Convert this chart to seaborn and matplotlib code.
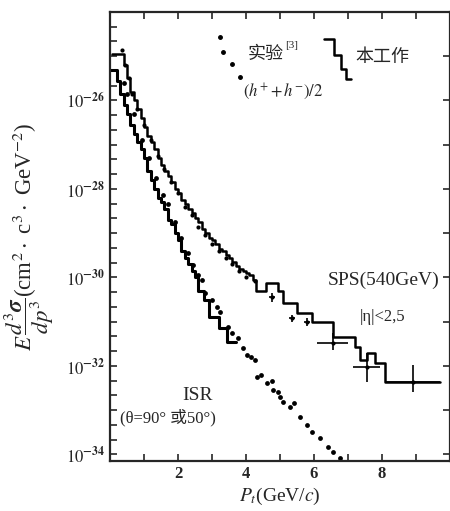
import numpy as np
import pandas as pd
import matplotlib
matplotlib.use("Agg")
import matplotlib.pyplot as plt
import seaborn as sns
from matplotlib.ticker import FixedLocator, FuncFormatter, NullFormatter

sns.set_style("ticks")
plt.rcParams['font.family'] = ['Liberation Serif', 'Noto Sans CJK SC', 'DejaVu Sans']
plt.rcParams['mathtext.fontset'] = 'stix'

# SPS (540 GeV) histogram, this work: bin edges and log10 of the values
sps_edges = [0.05, 0.3, 0.4, 0.5, 0.6, 0.7, 0.8, 0.9, 1.0, 1.1, 1.2, 1.3, 1.4, 1.5,
             1.6, 1.7, 1.8, 1.9, 2.0, 2.1, 2.2, 2.3, 2.4, 2.5, 2.6, 2.7, 2.8, 2.9,
             3.0, 3.1, 3.2, 3.3, 3.4, 3.5, 3.6, 3.7, 3.8, 3.9, 4.0, 4.1, 4.2, 4.3,
             4.6, 4.95, 5.1, 5.5, 5.95, 6.55, 7.2, 7.35, 7.55, 7.8, 8.1, 9.7]
sps_hist = [-24.95,
            -24.95, -25.2, -25.5, -25.8, -26.0, -26.2, -26.4, -26.6, -26.8, -26.95,
            -27.1, -27.3, -27.45, -27.6, -27.7, -27.85, -28.0, -28.1, -28.25, -28.35,
            -28.45, -28.55, -28.65, -28.75, -28.9, -29.0, -29.1, -29.15, -29.25, -29.35,
            -29.4, -29.5, -29.55, -29.65, -29.75, -29.8, -29.85, -29.9, -29.95, -30.05,
            -30.3, -30.12, -30.3, -30.58, -30.81, -31.01, -31.35, -31.58, -31.87,
            -31.71, -31.94, -32.37]

# ISR histogram, this work
isr_edges = [0.0, 0.2, 0.3, 0.4, 0.5, 0.6, 0.7, 0.8, 0.9, 1.0, 1.1, 1.2, 1.3, 1.4,
             1.5, 1.6, 1.7, 1.8, 1.9, 2.0, 2.1, 2.2, 2.3, 2.4, 2.5, 2.6,
             2.75, 2.9, 3.2, 3.45, 3.7]
isr_hist = [-25.3,
            -25.55, -25.85, -26.1, -26.3, -26.55, -26.75, -26.95, -27.1, -27.3, -27.6,
            -27.8, -28.0, -28.2, -28.3, -28.45, -28.7, -28.8, -29.0, -29.15, -29.4,
            -29.55, -29.7, -29.85, -30.0,
            -30.3, -30.5, -30.9, -31.15, -31.45]

# SPS experimental points (small dots on the curve)
sps_pt = [0.35, 0.45, 0.55, 0.65, 0.8, 1.0, 1.2, 1.4, 1.6, 1.8, 2.0, 2.2, 2.4, 2.6,
          2.8, 3.0, 3.2, 3.4, 3.6, 3.8, 4.0, 4.25]
sps_val = [-24.85, -25.2, -25.5, -25.85, -26.2, -26.55, -26.9, -27.25, -27.55, -27.85,
           -28.1, -28.4, -28.6, -28.85, -29.05, -29.25, -29.4, -29.55, -29.7, -29.85,
           -29.98, -30.08]

# SPS experimental points with error crosses at high pt
sps_err_pt = [4.76, 5.35, 5.79, 6.55, 7.55, 8.9]
sps_err_val = [-30.45, -30.92, -31.01, -31.49, -32.03, -32.37]
sps_err_dx = [0.08, 0.08, 0.08, 0.45, 0.4, 0.8]
sps_err_lo = [-30.55, -31.0, -31.1, -31.64, -32.37, -32.6]
sps_err_hi = [-30.35, -30.84, -30.92, -31.26, -31.7, -31.98]

# ISR experimental points
isr_pt = [0.4, 0.5, 0.7, 0.95, 1.15, 1.35, 1.56, 1.71, 1.9, 2.1, 2.3, 2.44, 2.6, 2.71,
          2.79, 3.0, 3.15, 3.24, 3.47, 3.6, 3.76, 3.9, 4.03, 4.15, 4.26, 4.32, 4.45,
          4.62, 4.75, 4.79, 4.95, 5.0, 5.09, 5.29, 5.4, 5.59, 5.79, 5.94, 6.18, 6.41,
          6.56, 6.76]
isr_val = [-25.6, -25.85, -26.3, -26.9, -27.3, -27.75, -28.14, -28.33, -28.75, -29.1,
           -29.45, -29.72, -29.95, -30.06, -30.36, -30.5, -30.67, -30.79, -31.12, -31.25,
           -31.37, -31.6, -31.76, -31.8, -31.87, -32.25, -32.2, -32.39, -32.35, -32.55,
           -32.6, -32.7, -32.82, -32.93, -32.85, -33.16, -33.34, -33.49, -33.63, -33.83,
           -33.95, -34.08]

x_major = [2, 4, 6, 8]
x_minor = [1, 3, 5, 7, 9]
y_decades = list(range(-34, -24))
y_labelled = [-34, -32, -30, -28, -26]


def step_frame(edges, vals):
    return pd.DataFrame({'pt': edges, 'v': 10.0 ** np.r_[vals, vals[-1]]})


fig = plt.figure(figsize=(4.5, 5.11), dpi=100)
ax = fig.add_axes([110 / 450, 50 / 511, 340 / 450, 449 / 511])
ax.set_yscale('log')

for edges, vals, lw in [(sps_edges, sps_hist, 1.8), (isr_edges, isr_hist, 2.2)]:
    sns.lineplot(data=step_frame(edges, vals), x='pt', y='v', drawstyle='steps-post',
                 estimator=None, sort=False, color='black', lw=lw, ax=ax)

sns.scatterplot(x=sps_pt, y=10.0 ** np.array(sps_val), s=9, color='black',
                linewidth=0, ax=ax)
sns.scatterplot(x=isr_pt, y=10.0 ** np.array(isr_val), s=12, color='black',
                linewidth=0, ax=ax)

yv = 10.0 ** np.array(sps_err_val)
ax.errorbar(sps_err_pt, yv, xerr=sps_err_dx,
            yerr=[yv - 10.0 ** np.array(sps_err_lo), 10.0 ** np.array(sps_err_hi) - yv],
            fmt='.', ms=4, color='black', elinewidth=1.2, capsize=0)

ax.set_xlim(0, 10)
ax.set_ylim(10 ** -34.15, 1e-24)

ax.xaxis.set_major_locator(FixedLocator(x_major))
ax.xaxis.set_minor_locator(FixedLocator(x_minor))
ax.yaxis.set_major_locator(FixedLocator([10.0 ** d for d in y_decades]))
ax.yaxis.set_minor_locator(FixedLocator([10.0 ** (d + f) for d in y_decades for f in (1 / 3, 2 / 3)]))
ax.yaxis.set_minor_formatter(NullFormatter())
ax.yaxis.set_major_formatter(FuncFormatter(
    lambda v, p: r'$10^{\mathbf{%d}}$' % round(np.log10(v)) if round(np.log10(v)) in y_labelled else ''))

ax.tick_params(which='both', direction='in', length=5, width=1.2, top=True, right=True,
               labelsize=12)
ax.tick_params(axis='y', which='minor', right=False)
for lab in ax.get_xticklabels():
    lab.set_fontweight('bold')
for s in ax.spines.values():
    s.set_linewidth(1.6)

ax.set_xlabel(r'$P_t$(GeV/$c$)', fontsize=14)
ax.xaxis.set_label_coords(0.5, -0.055)
ax.set_ylabel(r'$E\,\dfrac{d^3\boldsymbol{\sigma}}{dp^3}$(cm$^2\cdot$ c$^3\cdot$ GeV$^{-2}$)',
              fontsize=16.5)
ax.yaxis.set_label_coords(-0.16, 0.5)

# legend drawn in axes fraction
tr = ax.transAxes
ax.plot([0.324, 0.333, 0.360, 0.383], [0.944, 0.911, 0.884, 0.855], 'o', ms=2.5,
        color='black', transform=tr)
ax.text(0.405, 0.905, '实验', fontsize=13, va='center', transform=tr)
ax.text(0.515, 0.925, '[3]', fontsize=8, va='center', transform=tr)
ax.text(0.39, 0.822, r'$(h^{+}+h^{-})/2$', fontsize=12, va='center', transform=tr)
ax.plot([0.628, 0.658, 0.658, 0.678, 0.678, 0.693, 0.693, 0.708],
        [0.940, 0.940, 0.904, 0.904, 0.873, 0.873, 0.850, 0.850], color='black',
        lw=1.8, transform=tr)
ax.text(0.723, 0.898, '本工作', fontsize=13, va='center', transform=tr)

ax.text(0.64, 0.403, 'SPS(540GeV)', fontsize=14, va='center', transform=tr)
ax.text(0.735, 0.321, '|η|<2,5', fontsize=12, va='center', transform=tr)
ax.text(0.257, 0.145, 'ISR', fontsize=14, ha='center', va='center', transform=tr)
ax.text(0.03, 0.096, '(θ=90° 或50°)', fontsize=12, va='center', transform=tr)

fig.savefig('out.png', dpi=100)
